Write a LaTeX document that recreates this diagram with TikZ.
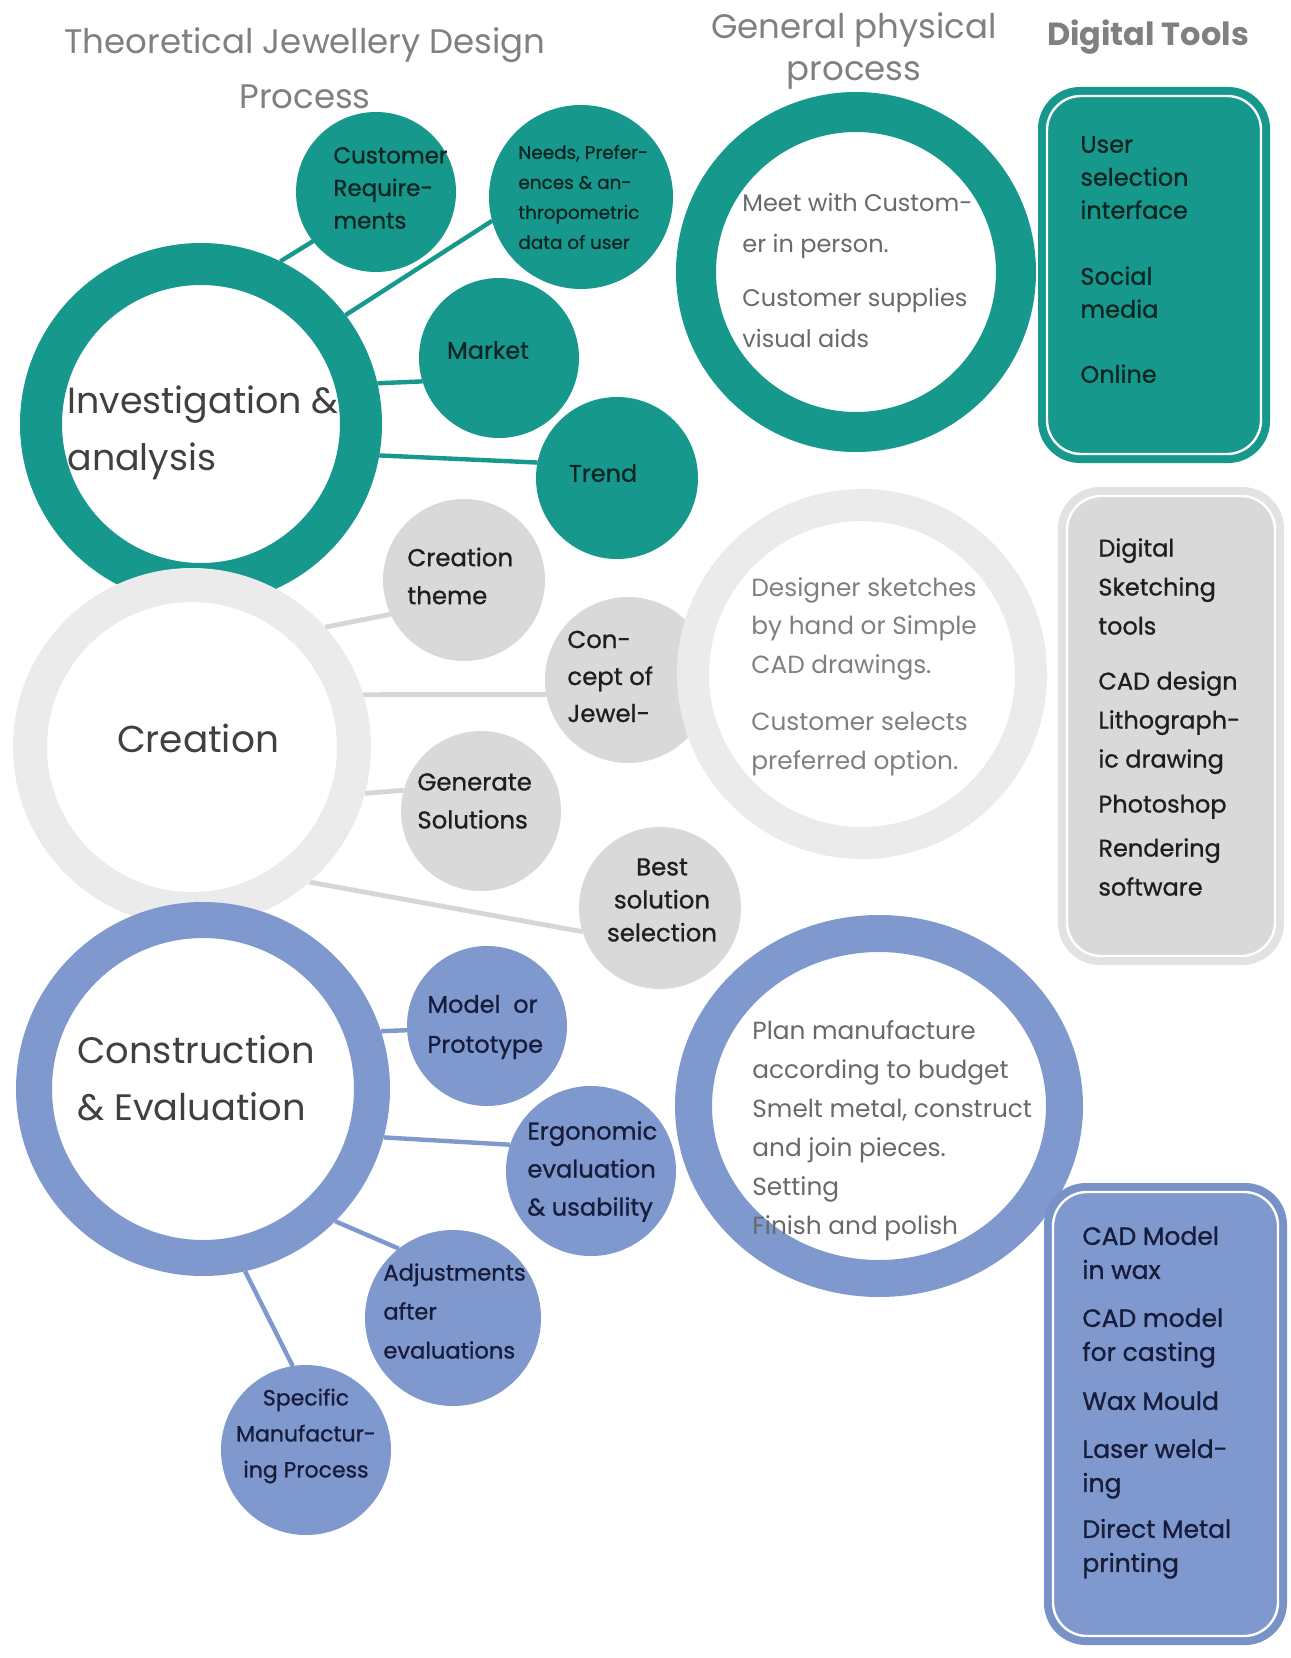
\documentclass[tikz,border=0pt]{standalone}
\usepackage{fontspec}
\setmainfont{Poppins}
\newfontfamily\lblfont{Poppins}[FakeBold=0.9]
\usetikzlibrary{backgrounds,shapes.geometric}
\definecolor{teal1}{RGB}{22,152,140}
\definecolor{blue1}{RGB}{127,152,206}
\definecolor{bborder}{RGB}{120,146,200}
\definecolor{gring}{RGB}{235,235,235}
\definecolor{gfill}{RGB}{217,217,217}
\definecolor{gbord}{RGB}{226,226,226}
\definecolor{gline}{RGB}{214,214,214}
\definecolor{ttl}{RGB}{128,128,128}
\definecolor{ringtxt}{RGB}{64,64,64}
\definecolor{phys}{RGB}{105,105,105}
\definecolor{gphys}{RGB}{128,128,128}
\definecolor{tdark}{RGB}{12,38,36}
\definecolor{gdark}{RGB}{30,30,30}
\definecolor{bdark}{RGB}{22,28,58}
\newcommand\fsz[2]{\fontsize{#1}{#2}\selectfont}
\tikzset{
  ringnode/.style={circle, inner sep=0pt, fill=white},
  bub/.style={circle, inner sep=0pt, outer sep=0pt},
  lbl/.style={inner sep=0pt, align=left, anchor=west},
  clbl/.style={inner sep=0pt, align=center, anchor=center},
  tline/.style={draw=teal1, line width=2.2pt},
  gcon/.style={draw=gline, line width=2.4pt},
  bcon/.style={draw=blue1, line width=2.2pt},
  boxout/.style={inner sep=0pt, rounded corners=21pt},
  boxin/.style={inner sep=0pt, draw=white, line width=1.2pt, rounded corners=17pt},
}
\begin{document}
\begin{tikzpicture}[x=0.5pt,y=-0.5pt]
\useasboundingbox (0,0) rectangle (1290,1658);

% ---------- titles ----------
\node[clbl, text=ttl, font=\fsz{17pt}{27.5pt}] (t1) at (305,68) {Theoretical Jewellery Design\\Process};
\node[clbl, text=ttl, font=\fsz{17pt}{21pt}] (t2) at (854,51) {General physical\\process};
\node[clbl, text=ttl, font=\fsz{16pt}{20pt}\bfseries] (t3) at (1148,37) {Digital Tools};

% ---------- teal group ----------
\node[ringnode, draw=teal1, line width=21pt, minimum size=160pt] (inv) at (201,424) {};
\node[lbl, text=ringtxt, font=\fsz{18.2pt}{28.5pt}] (invl) at (67,433) {Investigation \&\\analysis};
\node[bub, fill=teal1, minimum size=80pt] (cr) at (376,192) {};
\node[lbl, text=tdark, font=\lblfont\fsz{11.5pt}{16.3pt}] (crl) at (333,188) {Customer\\Require-\\ments};
\node[bub, fill=teal1, minimum size=92pt] (nd) at (581,197) {};
\node[lbl, text=tdark, font=\lblfont\fsz{9.2pt}{15pt}] (ndl) at (518,197) {Needs, Prefer-\\ences \& an-\\thropometric\\data of user};
\node[bub, fill=teal1, minimum size=80pt] (mk) at (499,358) {};
\node[clbl, text=tdark, font=\lblfont\fsz{12pt}{16pt}] (mkl) at (488,350) {Market};
\node[bub, fill=teal1, minimum size=81pt] (tr) at (617,478) {};
\node[clbl, text=tdark, font=\lblfont\fsz{12pt}{16pt}] (trl) at (603,473) {Trend};

\node[ringnode, draw=teal1, line width=20pt, minimum size=160pt] (phA) at (856,272) {};
\node[lbl, text=phys, font=\fsz{12pt}{20.5pt}] (phAl) at (742,270) {Meet with Custom-\\er in person.\\[6.5pt]Customer supplies\\visual aids};

\node[boxout, fill=teal1, minimum width=116pt, minimum height=188pt] (dtA) at (1154,275) {};
\node[boxin, minimum width=107pt, minimum height=179pt] (dtAi) at (dtA.center) {};
\node[lbl, text=tdark, font=\lblfont\fsz{12pt}{16.5pt}] (dtAl) at (1080,259.5) {User\\selection\\interface\\[16.5pt]Social\\media\\[16pt]Online};

% ---------- gray group ----------
\node[ringnode, draw=gring, line width=17pt, minimum size=162pt] (cre) at (192,747) {};
\node[clbl, text=ringtxt, font=\fsz{18.7pt}{28.5pt}] (crel) at (198,738) {Creation};
\node[bub, fill=gfill, minimum size=81pt] (th) at (464,580) {};
\node[lbl, text=gdark, font=\lblfont\fsz{12.2pt}{19pt}] (thl) at (407,576) {Creation\\theme};
\node[bub, fill=gfill, minimum size=83pt] (cp) at (628,680) {};
\node[lbl, text=gdark, font=\lblfont\fsz{12.2pt}{18.5pt}] (cpl) at (567,676.5) {Con-\\cept of\\Jewel-};
\node[bub, fill=gfill, minimum size=80pt] (gs) at (481,811) {};
\node[lbl, text=gdark, font=\lblfont\fsz{12.2pt}{19pt}] (gsl) at (417,801) {Generate\\Solutions};
\node[bub, fill=gfill, minimum size=81pt] (bs) at (660,908) {};
\node[clbl, text=gdark, font=\lblfont\fsz{12.2pt}{16.5pt}] (bsl) at (662,900) {Best\\solution\\selection};

\node[ringnode, draw=gring, line width=16pt, minimum size=169pt] (phB) at (862,674) {};
\node[lbl, text=gphys, font=\fsz{12.4pt}{19.3pt}] (phBl) at (751,676.5) {Designer sketches\\by hand or Simple\\CAD drawings.\\[9.5pt]Customer selects\\preferred option.};

\node[boxout, fill=gbord, minimum width=113pt, minimum height=239pt] (dtB) at (1171,726) {};
\node[boxin, fill=gfill, minimum width=104pt, minimum height=230pt] (dtBi) at (dtB.center) {};
\node[lbl, text=gdark, font=\lblfont\fsz{12pt}{19.5pt}] (dtBl) at (1098,717) {Digital\\Sketching\\tools\\[8pt]CAD design\\Lithograph-\\ic drawing\\[3pt]Photoshop\\[2.5pt]Rendering\\software};

% ---------- blue group ----------
\node[ringnode, draw=blue1, line width=18pt, minimum size=169pt] (con) at (203,1089) {};
\node[lbl, text=ringtxt, font=\fsz{18.4pt}{28.5pt}] (conl) at (77,1078.5) {Construction\\\& Evaluation};
\node[bub, fill=blue1, minimum size=80pt] (md) at (487,1026) {};
\node[lbl, text=bdark, font=\lblfont\fsz{12pt}{20pt}] (mdl) at (427,1027) {Model~~or\\Prototype};
\node[bub, fill=blue1, minimum size=85pt] (er) at (591,1171) {};
\node[lbl, text=bdark, font=\lblfont\fsz{12.1pt}{19pt}] (erl) at (527,1171.5) {Ergonomic\\evaluation\\\& usability};
\node[bub, fill=blue1, minimum size=88pt] (ad) at (453,1318) {};
\node[lbl, text=bdark, font=\lblfont\fsz{11.3pt}{19.5pt}] (adl) at (383,1311) {Adjustments\\after\\evaluations};
\node[bub, fill=blue1, minimum size=85pt] (sp) at (306,1450) {};
\node[clbl, text=bdark, font=\lblfont\fsz{11pt}{18pt}] (spl) at (306,1436) {Specific\\Manufactur-\\ing Process};

\node[ellipse, inner sep=0pt, fill=white, draw=blue1, line width=18.5pt, minimum width=185.5pt, minimum height=172.5pt] (phC) at (879,1106) {};
\node[lbl, text=phys, font=\fsz{12.4pt}{19.5pt}] (phCl) at (752,1130.5) {Plan manufacture\\according to budget\\Smelt metal, construct\\and join pieces.\\Setting\\Finish and polish};

\node[boxout, fill=bborder, minimum width=121.5pt, minimum height=231pt] (dtC) at (1165.5,1414) {};
\node[boxin, fill=blue1, minimum width=112.5pt, minimum height=222pt] (dtCi) at (dtC.center) {};
\node[lbl, text=bdark, font=\lblfont\fsz{12.5pt}{17pt}] (dtCl) at (1082,1402.5) {CAD Model\\in wax\\[7pt]CAD model\\for casting\\[7.5pt]Wax Mould\\[7pt]Laser weld-\\ing\\[6pt]Direct Metal\\printing};

% ---------- connectors (behind) ----------
\begin{pgfonlayer}{background}
\fill[white] (0,0) rectangle (1290,1658);
\draw[tline] (inv.64) -- (cr.218);
\draw[tline] (inv.37) -- (nd.195);
\draw[tline] (inv.13) -- (mk.197);
\draw[tline] (inv.-10) -- (tr.169);
\draw[gcon] (cre.42) -- (th.205);
\draw[gcon] (cre.17) -- (cp.190);
\draw[gcon] (cre.-15) -- (gs.165);
\draw[gcon] (cre.-49) -- (bs.197);
\draw[bcon] (con.18) -- (md.183);
\draw[bcon] (con.-15) -- (er.162);
\draw[bcon] (con.-45) -- (ad.128);
\draw[bcon] (con.-77) -- (sp.99);
\end{pgfonlayer}
\end{tikzpicture}
\end{document}
